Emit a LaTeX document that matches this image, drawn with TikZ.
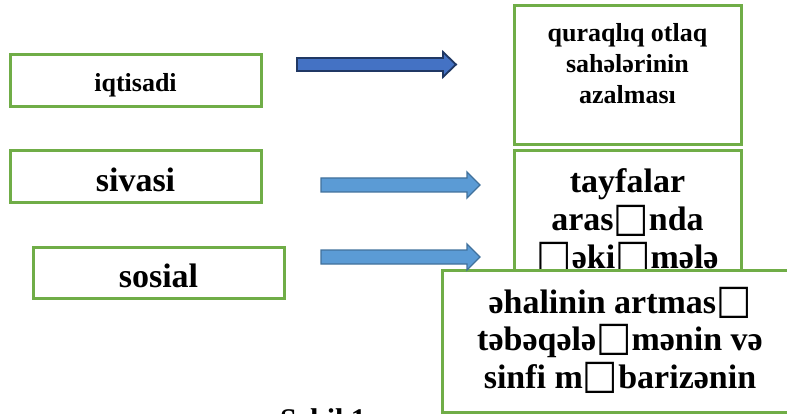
\documentclass[tikz,border=0pt]{standalone}
\usepackage{fontspec}
\usepackage{graphicx}
\setmainfont{Liberation Serif}
\newfontfamily\boxglyphfont{DejaVu Sans}
\newcommand\nf{{\boxglyphfont\mdseries\scalebox{1.1}[1.2]{\symbol{"25A1}}}}
\definecolor{boxgreen}{HTML}{70AD47}
\definecolor{darkfill}{HTML}{4472C4}
\definecolor{darkedge}{HTML}{203864}
\definecolor{lightfill}{HTML}{5B9BD5}
\definecolor{lightedge}{HTML}{41719C}
\begin{document}
\begin{tikzpicture}[x=1pt,y=-1pt,
  gbox/.style={draw=boxgreen, line width=3pt, fill=white, inner sep=0pt},
  lbl/.style={anchor=base, inner sep=0pt, align=center},
  smallfont/.style={font=\bfseries\fontsize{26}{31}\selectfont},
  bigfont/.style={font=\bfseries\fontsize{34}{38}\selectfont},
  darrow/.style={fill=darkfill, draw=darkedge, line width=1.8pt, line join=miter},
  larrow/.style={fill=lightfill, draw=lightedge, line width=1.4pt, line join=miter}]
\useasboundingbox (0,0) rectangle (787,414);
\clip (0,0) rectangle (787,414);
% left boxes
\node[gbox, minimum width=251pt, minimum height=52pt] (iqtbox) at (135.5,81) {};
\node[lbl, smallfont] (iqt) at (135.5,92) {iqtisadi};
\node[gbox, minimum width=251pt, minimum height=52pt] (sivbox) at (135.5,177) {};
\node[lbl, bigfont] (siv) at (135.5,192) {sivasi};
\node[gbox, minimum width=251pt, minimum height=51pt] (sosbox) at (158.5,272.5) {};
\node[lbl, bigfont] (sos) at (158.5,287) {sosial};
% right boxes
\node[gbox, minimum width=227pt, minimum height=139pt] (qurbox) at (627.5,75.5) {};
\node[lbl, smallfont] (qur) at (627.5,104) {quraqlıq otlaq\\sahələrinin\\azalması};
\node[gbox, minimum width=227pt, minimum height=149pt] (tayfbox) at (627.5,225.5) {};
\node[lbl, bigfont] (tayf) at (627.5,269) {tayfalar\\aras\nf nda\\\nf əki\nf mələ};
% arrows
\draw[darrow] (297,58) -- (443,58) -- (443,52) -- (456,64.5) -- (443,77) -- (443,71) -- (297,71) -- cycle;
\draw[larrow] (321,178) -- (467,178) -- (467,172) -- (480,185) -- (467,198) -- (467,192) -- (321,192) -- cycle;
% bottom box
\node[gbox, minimum width=356pt, minimum height=142pt] (ehbox) at (620,341) {};
\node[lbl, font=\bfseries\fontsize{34}{37.5}\selectfont] (eh) at (620,388) {əhalinin artmas\nf\\təbəqələ\nf mənin və\\sinfi m\nf barizənin};
\draw[larrow] (321,250) -- (467,250) -- (467,244) -- (480,257) -- (467,270) -- (467,264) -- (321,264) -- cycle;
% caption
\node[lbl, font=\bfseries\fontsize{30}{36}\selectfont] (cap) at (323,429) {Şəkil 1};
\end{tikzpicture}
\end{document}
